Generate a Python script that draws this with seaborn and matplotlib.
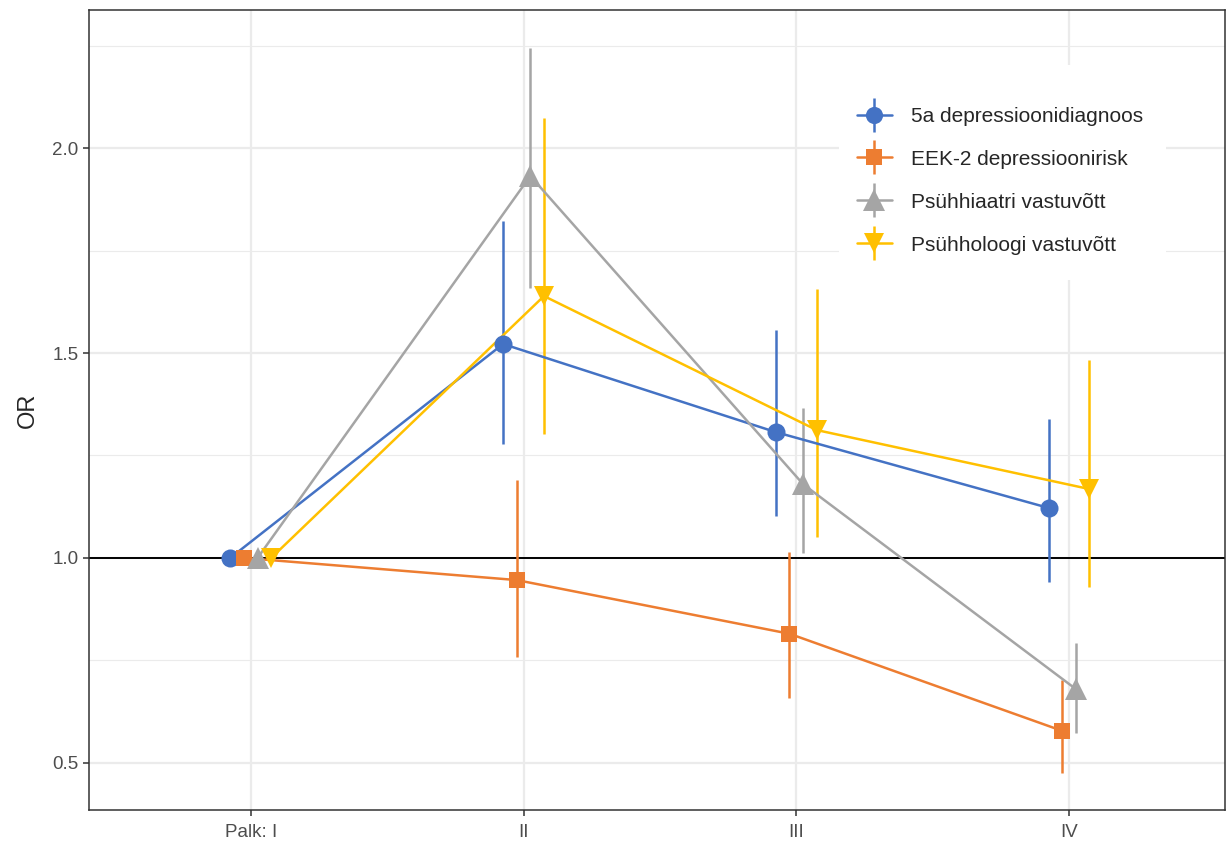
import matplotlib.pyplot as plt
import seaborn as sns
import pandas as pd
from matplotlib.lines import Line2D
from matplotlib.patches import Rectangle
from matplotlib.ticker import MultipleLocator

# data
periods = ["Palk: I", "II", "III", "IV"]
groups = ["5a depressioonidiagnoos", "EEK-2 depressioonirisk",
          "Psühhiaatri vastuvõtt", "Psühholoogi vastuvõtt"]

or_diag = [1.0, 1.522, 1.307, 1.122]
lo_diag = [1.0, 1.278, 1.102, 0.941]
hi_diag = [1.0, 1.822, 1.556, 1.339]

or_eek = [1.0, 0.946, 0.815, 0.578]
lo_eek = [1.0, 0.759, 0.659, 0.476]
hi_eek = [1.0, 1.190, 1.015, 0.702]

or_psyh = [1.0, 1.932, 1.180, 0.680]
lo_psyh = [1.0, 1.659, 1.012, 0.573]
hi_psyh = [1.0, 2.244, 1.366, 0.793]

or_psyl = [1.0, 1.639, 1.312, 1.168]
lo_psyl = [1.0, 1.302, 1.051, 0.929]
hi_psyl = [1.0, 2.073, 1.656, 1.483]

colors = ["#4472C4", "#ED7D31", "#A5A5A5", "#FFC000"]
markers = ["o", "s", "^", "v"]
msizes = [13, 11.5, 16, 15]
dodge = [-0.075, -0.025, 0.025, 0.075]

series = [(or_diag, lo_diag, hi_diag), (or_eek, lo_eek, hi_eek),
          (or_psyh, lo_psyh, hi_psyh), (or_psyl, lo_psyl, hi_psyl)]

rows = []
for g, (o, lo, hi), d in zip(groups, series, dodge):
    for i in range(len(periods)):
        rows.append({"group": g, "x": i + d, "OR": o[i], "lo": lo[i], "hi": hi[i]})
df = pd.DataFrame(rows)

sns.set_style("white")
plt.rcParams["font.family"] = ["Liberation Sans", "DejaVu Sans"]

fig = plt.figure(figsize=(12.26, 8.41), dpi=100)
ax = fig.add_axes([0.0726, 0.0369, 0.9264, 0.9512])

# grid like theme_bw
for y in [0.5, 1.0, 1.5, 2.0]:
    ax.axhline(y, color="#EBEBEB", lw=1.6, zorder=0)
for y in [0.75, 1.25, 1.75, 2.25]:
    ax.axhline(y, color="#EBEBEB", lw=0.8, zorder=0)
for x in range(len(periods)):
    ax.axvline(x, color="#EBEBEB", lw=1.6, zorder=0)

ax.axhline(1.0, color="black", lw=1.4, zorder=1)

# connecting lines
sns.lineplot(data=df, x="x", y="OR", hue="group", palette=colors,
             sort=False, linewidth=1.8, legend=False, ax=ax, zorder=3)

# point ranges
for g, c, m, ms in zip(groups, colors, markers, msizes):
    sub = df[df["group"] == g]
    ax.vlines(sub["x"], sub["lo"], sub["hi"], color=c, lw=1.8, zorder=2)
    ax.plot(sub["x"], sub["OR"], ls="none", marker=m, ms=ms, mew=0,
            color=c, zorder=4)

ax.set_xlim(-0.593, 3.571)
ax.set_ylim(0.385, 2.337)
ax.set_xticks(range(len(periods)))
ax.set_xticklabels(periods)
ax.yaxis.set_major_locator(MultipleLocator(0.5))
ax.yaxis.set_major_formatter(plt.FuncFormatter(lambda v, p: f"{v:.1f}"))
ax.tick_params(axis="both", labelsize=13.5, labelcolor="#4D4D4D", color="#333333",
               length=4, width=1.1, direction="out", bottom=True, left=True)
ax.tick_params(axis="x", pad=6)
ax.set_xlabel("")
ax.set_ylabel("OR", fontsize=17, labelpad=10)
for s in ax.spines.values():
    s.set_color("#333333")
    s.set_linewidth(1.1)

# legend background box
ax.add_patch(Rectangle((0.6605, 0.6625), 0.2875, 0.2685, transform=ax.transAxes,
                       facecolor="white", edgecolor="none", zorder=1.5))

handles = [(Line2D([], [], color=c, lw=1.8, marker=m, ms=ms * 0.95, mew=0),
            Line2D([], [], color=c, marker="|", ms=24, mew=1.8, ls="none"))
           for c, m, ms in zip(colors, markers, msizes)]
leg = ax.legend(handles, groups, loc="upper left", bbox_to_anchor=(0.676, 0.879),
                fontsize=15, frameon=False, handlelength=1.7, labelspacing=1.15,
                borderpad=0, borderaxespad=0, handletextpad=0.9)

fig.savefig("out.png", dpi=100)
